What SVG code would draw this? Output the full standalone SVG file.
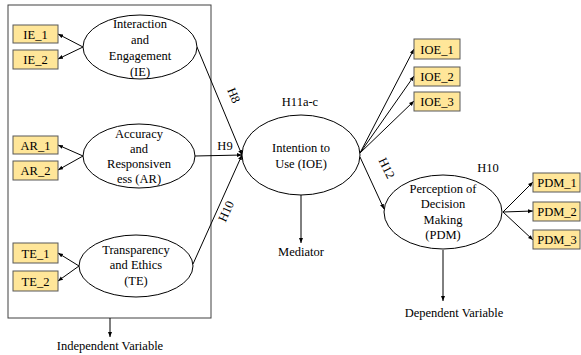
<svg xmlns="http://www.w3.org/2000/svg" width="581" height="355" viewBox="0 0 581 355">
<defs>
<marker id="ah" viewBox="0 0 10 10" refX="10" refY="5" markerWidth="5" markerHeight="5" orient="auto" markerUnits="userSpaceOnUse">
<path d="M0,1 L10,5 L0,9 z" fill="#000"/>
</marker>
<style>
text{font-family:"Liberation Serif","Times New Roman",serif;font-size:12.5px;fill:#000;text-anchor:middle}
.box{fill:#FFE699;stroke:#595959;stroke-width:1}
.ell{fill:#fff;stroke:#000;stroke-width:1}
.ln{stroke:#000;stroke-width:1;fill:none}
.ar{stroke:#000;stroke-width:1;fill:none;marker-end:url(#ah)}
</style>
</defs>
<rect width="581" height="355" fill="#fff"/>
<rect id="frame" x="8" y="5" width="203" height="313" fill="none" stroke="#404040" stroke-width="1"/>

<g id="connectors">
<line class="ar" x1="83" y1="47" x2="58" y2="34"/>
<line class="ar" x1="83" y1="47" x2="58" y2="59"/>
<line class="ar" x1="83" y1="156" x2="58" y2="145"/>
<line class="ar" x1="83" y1="156" x2="58" y2="170"/>
<line class="ar" x1="79" y1="266" x2="58" y2="253"/>
<line class="ar" x1="79" y1="266" x2="58" y2="281"/>
<line class="ar" x1="197" y1="47" x2="242" y2="155"/>
<line class="ar" x1="195" y1="156" x2="242" y2="155"/>
<line class="ar" x1="193" y1="264" x2="242" y2="155"/>
<line class="ar" x1="110" y1="318" x2="110" y2="337"/>
<line class="ar" x1="301" y1="195" x2="301" y2="243"/>
<line class="ar" x1="360" y1="153" x2="414" y2="49"/>
<line class="ar" x1="360" y1="153" x2="414" y2="76"/>
<line class="ar" x1="360" y1="153" x2="414" y2="101"/>
<line class="ar" x1="360" y1="157" x2="384" y2="209"/>
<line class="ar" x1="503" y1="212" x2="533" y2="182"/>
<line class="ar" x1="503" y1="212" x2="533" y2="211"/>
<line class="ar" x1="503" y1="212" x2="533" y2="240"/>
<line class="ar" x1="443" y1="250" x2="443" y2="301"/>
</g>

<g id="IE">
<ellipse class="ell" cx="140" cy="47" rx="57" ry="32"/>
<text x="140" y="28">Interaction</text>
<text x="140" y="44">and</text>
<text x="140" y="60">Engagement</text>
<text x="140" y="76">(IE)</text>
</g>
<g id="IE_1"><rect class="box" x="13" y="25" width="45" height="18"/><text x="35.5" y="39">IE_1</text></g>
<g id="IE_2"><rect class="box" x="13" y="50" width="45" height="19"/><text x="35.5" y="64">IE_2</text></g>

<g id="AR">
<ellipse class="ell" cx="139" cy="156" rx="56" ry="32"/>
<text x="139" y="138">Accuracy</text>
<text x="139" y="153">and</text>
<text x="139" y="168">Responsiven</text>
<text x="139" y="183">ess (AR)</text>
</g>
<g id="AR_1"><rect class="box" x="13" y="136" width="45" height="18"/><text x="35.5" y="150">AR_1</text></g>
<g id="AR_2"><rect class="box" x="13" y="161" width="45" height="19"/><text x="35.5" y="175">AR_2</text></g>

<g id="TE">
<ellipse class="ell" cx="136" cy="266" rx="57" ry="31"/>
<text x="136" y="254">Transparency</text>
<text x="136" y="269">and Ethics</text>
<text x="136" y="285">(TE)</text>
</g>
<g id="TE_1"><rect class="box" x="13" y="243" width="45" height="20"/><text x="35.5" y="258">TE_1</text></g>
<g id="TE_2"><rect class="box" x="13" y="271" width="45" height="20"/><text x="35.5" y="286">TE_2</text></g>

<g id="IOE">
<ellipse class="ell" cx="301" cy="155" rx="59" ry="40"/>
<text x="301" y="152">Intention to</text>
<text x="301" y="168">Use (IOE)</text>
</g>
<g id="IOE_1"><rect class="box" x="414" y="39" width="46" height="20"/><text x="437" y="54">IOE_1</text></g>
<g id="IOE_2"><rect class="box" x="414" y="67" width="46" height="19"/><text x="437" y="81">IOE_2</text></g>
<g id="IOE_3"><rect class="box" x="414" y="92" width="46" height="19"/><text x="437" y="106">IOE_3</text></g>

<g id="PDM">
<ellipse class="ell" cx="443" cy="212" rx="59" ry="37"/>
<text x="443" y="193">Perception of</text>
<text x="443" y="208">Decision</text>
<text x="443" y="224">Making</text>
<text x="443" y="239">(PDM)</text>
</g>
<g id="PDM_1"><rect class="box" x="533" y="173" width="47" height="19"/><text x="557" y="187">PDM_1</text></g>
<g id="PDM_2"><rect class="box" x="533" y="202" width="47" height="19"/><text x="557" y="216">PDM_2</text></g>
<g id="PDM_3"><rect class="box" x="533" y="230" width="47" height="19"/><text x="557" y="244">PDM_3</text></g>

<g id="labels">
<text x="0" y="0" transform="translate(230,97) rotate(67)">H8</text>
<text x="225" y="150">H9</text>
<text x="0" y="0" transform="translate(230,213) rotate(-66)">H10</text>
<text x="300" y="106">H11a-c</text>
<text x="0" y="0" transform="translate(383,170) rotate(64)">H12</text>
<text x="488" y="172">H10</text>
<text x="110" y="350">Independent Variable</text>
<text x="301" y="256">Mediator</text>
<text x="454" y="317">Dependent Variable</text>
</g>
</svg>
